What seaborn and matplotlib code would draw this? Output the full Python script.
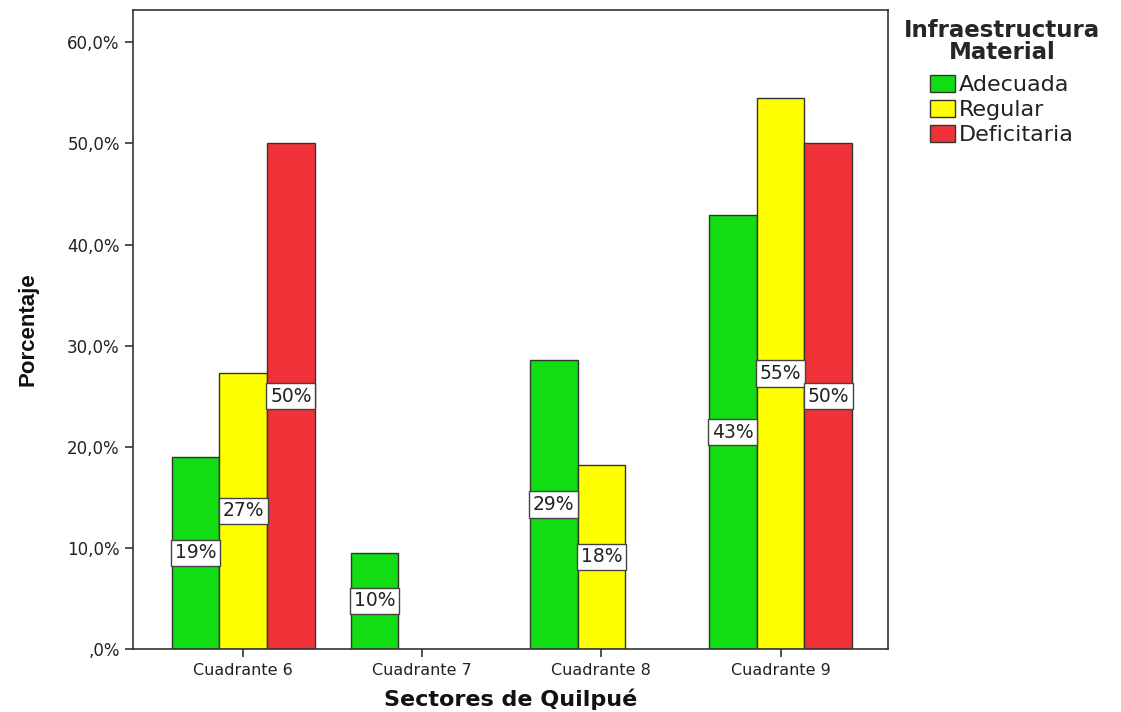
import pandas as pd
import matplotlib
matplotlib.use("Agg")
import matplotlib.pyplot as plt
import seaborn as sns

sectores = ["Cuadrante 6", "Cuadrante 7", "Cuadrante 8", "Cuadrante 9"]
niveles = ["Adecuada", "Regular", "Deficitaria"]
adecuada = [19.0, 9.5, 28.6, 42.9]
regular = [27.3, None, 18.2, 54.5]
deficitaria = [50.0, None, None, 50.0]
colores = ["#12dc12", "#ffff00", "#f03238"]

rows = []
for i, s in enumerate(sectores):
    for nivel, vals in zip(niveles, [adecuada, regular, deficitaria]):
        if vals[i] is not None:
            rows.append({"sector": s, "nivel": nivel, "pct": vals[i]})
df = pd.DataFrame(rows)

sns.set_style("white")
plt.rcParams["font.family"] = ["DejaVu Sans"]

fig = plt.figure(figsize=[11.21, 7.12], dpi=100)
ax = fig.add_axes([133 / 1121, 63 / 712, 755 / 1121, 639 / 712])

sns.barplot(
    data=df, x="sector", y="pct", hue="nivel", order=sectores, hue_order=niveles,
    palette=colores, width=0.8, edgecolor="#333333", linewidth=1.0, saturation=1,
    ax=ax, errorbar=None,
)

# etiquetas al medio de cada barra
for cont in ax.containers:
    for bar in cont:
        h = bar.get_height()
        if h != h or h <= 0:
            continue
        ax.text(
            bar.get_x() + bar.get_width() / 2, h / 2, f"{int(h + 0.5)}%",
            ha="center", va="center", fontsize=13.5, color="#222222",
            bbox=dict(boxstyle="square,pad=0.2", fc="white", ec="#444444", lw=1),
        )

ax.set_xlim(-0.615, 3.6)
ax.set_ylim(0, 63.2)
ax.set_yticks([0, 10, 20, 30, 40, 50, 60])
ax.set_yticklabels([",0%", "10,0%", "20,0%", "30,0%", "40,0%", "50,0%", "60,0%"], fontsize=12)
ax.tick_params(axis="x", labelsize=11.5, pad=4)
ax.tick_params(axis="both", direction="out", length=6, width=1.2, color="#333333",
               labelcolor="#222222", left=True, bottom=True)
for sp in ax.spines.values():
    sp.set_color("#333333")
    sp.set_linewidth(1.2)

ax.set_xlabel("Sectores de Quilpué", fontsize=16, fontweight="bold", labelpad=8, color="#111111")
ax.set_ylabel("Porcentaje", fontsize=16, fontweight="bold", labelpad=21, color="#111111",
              family=["Liberation Sans", "DejaVu Sans"])

leg = ax.legend(
    title="Infraestructura\nMaterial", loc="upper left", bbox_to_anchor=(0.995, 1.017),
    frameon=False, fontsize=16, title_fontproperties={"weight": "bold", "size": 16.5},
    handlelength=1.1, handleheight=0.75, handletextpad=0.2, labelspacing=0.22,
)
leg.get_title().set_multialignment("center")
leg.get_title().set_linespacing(0.95)
leg._legend_box.sep = 8
for t in leg.get_texts():
    t.set_color("#222222")

plt.savefig("out.png", dpi=100)
